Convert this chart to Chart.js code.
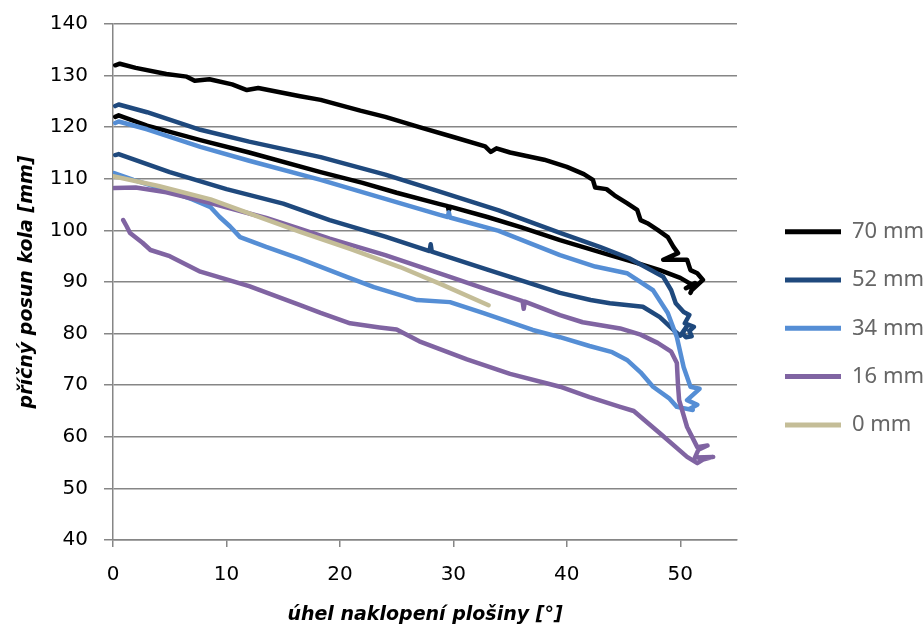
<!DOCTYPE html>
<html>
<head>
<meta charset="utf-8">
<script src="https://cdn.jsdelivr.net/npm/chart.js@4.4.1/dist/chart.umd.min.js"></script>
<style>
  html, body { margin: 0; padding: 0; background: #fff; }
  canvas { display: block; }
</style>
</head>
<body>
<canvas id="graf" width="924" height="626"></canvas>
<script>
// each series is one loop: tilting up (upper curve), then back down (lower curve)
const nazvy = ['70 mm', '52 mm', '34 mm', '16 mm', '0 mm'];
const barvy = ['#000000', '#1f497d', '#558ed5', '#8064a2', '#c4bd97'];
const xTicks = [0, 10, 20, 30, 40, 50];
const yTicks = [40, 50, 60, 70, 80, 90, 100, 110, 120, 130, 140];

const x70tam = [0.2, 0.6, 2, 4.7, 6.5, 7.2, 8.5, 10.5, 11.8, 12.8, 16.5, 18.3, 21.8, 24, 27, 30, 32.8, 33.3, 33.8, 35, 38, 40, 41.5, 42.3, 42.5, 43.5, 44.2, 45.3, 46.2, 46.5, 47.1, 48, 48.9, 49.4, 49.8, 48.5, 50.6, 50.9, 51.5, 52, 51, 50.9];
const y70tam = [132.0, 132.3, 131.5, 130.3, 129.8, 129.0, 129.3, 128.3, 127.2, 127.6, 126.0, 125.3, 123.2, 122.0, 120.0, 118.1, 116.3, 115.2, 115.9, 115.1, 113.7, 112.3, 110.9, 109.8, 108.3, 108.0, 106.8, 105.3, 104.0, 102.0, 101.4, 100.1, 98.7, 96.8, 95.6, 94.3, 94.3, 92.3, 91.7, 90.4, 88.4, 87.9];
const x70zpet = [51.3, 50.5, 51.1, 50, 48.2, 46, 43.8, 39.4, 36, 33, 29.7, 29.6, 29.5, 28.8, 25, 22, 18.3, 12, 7.7, 3, 0.5, 0.2];
const y70zpet = [89.8, 88.8, 89.4, 90.8, 92.3, 93.8, 95.2, 98.1, 100.6, 102.6, 104.6, 103.8, 104.7, 105.1, 107.3, 109.2, 111.3, 115.1, 117.5, 120.3, 122.3, 122.0];

const x52tam = [0.2, 0.5, 3, 7.7, 12, 18.3, 24, 28.8, 34, 39.4, 42.9, 45.5, 48.5, 49.2, 49.6, 50.3, 50.8, 50.4, 51.2, 50.8, 51.0, 50.5];
const y52tam = [124.1, 124.4, 122.9, 119.5, 117.2, 114.2, 110.8, 107.5, 103.9, 99.5, 96.8, 94.6, 91.0, 88.4, 85.9, 84.2, 83.6, 82.0, 81.3, 80.5, 79.5, 79.3];
const x52zpet = [50.2, 50.6, 50, 49.4, 48.2, 46.7, 43.8, 42.1, 39.4, 37, 33, 28.1, 28.0, 27.9, 24, 19.1, 15, 10, 5, 0.5, 0.2];
const y52zpet = [80.0, 81.5, 79.6, 80.7, 83.2, 85.2, 85.9, 86.5, 87.9, 89.6, 92.4, 95.9, 97.3, 96.0, 98.8, 102.0, 105.2, 108.0, 111.3, 114.8, 114.6];

const x34tam = [0.2, 0.5, 3, 7.7, 12, 18.3, 24, 28.8, 29.5, 29.6, 29.7, 34, 39.4, 42.5, 45.3, 47.6, 48.9, 49.7, 50.3, 50.9, 51.7, 50.6, 51.5, 50.8];
const y34tam = [120.8, 121.1, 119.6, 116.2, 113.5, 109.8, 106.1, 103.0, 102.6, 103.5, 102.5, 99.9, 95.2, 93.0, 91.7, 88.4, 84.0, 79.3, 73.5, 69.7, 69.3, 67.1, 66.2, 65.4];
const x34zpet = [51.1, 49.7, 49, 47.6, 46.5, 45.3, 44, 42, 39.4, 37, 32.6, 29.7, 26.8, 23, 20.6, 16.5, 13.5, 11.2, 10.3, 9.4, 8.6, 7, 4.7, 1.8, 0.1];
const y34zpet = [65.2, 65.8, 67.5, 69.7, 72.5, 74.9, 76.4, 77.6, 79.3, 80.7, 84.0, 86.1, 86.5, 89.0, 91.0, 94.5, 96.8, 98.7, 100.8, 102.6, 104.5, 106.0, 107.8, 109.8, 111.1];

const x16tam = [0.1, 2, 4.7, 8.6, 13.5, 16.5, 19.1, 24, 29.7, 33, 36.1, 36.2, 36.3, 39.4, 41.4, 44.7, 46.5, 48, 49.2, 49.7, 49.8, 49.9, 50.6, 51.5, 52.4, 51.6, 51.3];
const y16tam = [108.2, 108.3, 107.4, 105.3, 102.4, 100.3, 98.4, 95.2, 91.0, 88.5, 86.3, 84.8, 86.2, 83.6, 82.2, 81.0, 79.8, 78.2, 76.5, 74.3, 70.0, 67.1, 61.9, 58.0, 58.3, 57.5, 56.0];
const x16zpet = [52.9, 52, 51.5, 50.6, 48.2, 45.9, 44.7, 42, 39.4, 35, 31.2, 27, 25, 23.5, 20.9, 18.3, 16.5, 12, 7.7, 5, 3.3, 2.6, 1.5, 1.2, 0.9];
const y16zpet = [56.1, 55.6, 54.9, 56.1, 60.7, 65.0, 65.8, 67.7, 69.7, 72.2, 75.0, 78.5, 80.8, 81.2, 82.0, 84.0, 85.5, 89.2, 92.0, 95.0, 96.2, 97.6, 99.5, 100.8, 102.0];

const x0 = [0, 4, 8.6, 12, 16.5, 20.9, 25.3, 29, 33.1];
const y0 = [110.5, 108.6, 106.0, 103.3, 99.7, 96.4, 92.9, 89.5, 85.5];

const serieX = [x70tam.concat(x70zpet), x52tam.concat(x52zpet), x34tam.concat(x34zpet), x16tam.concat(x16zpet), x0];
const serieY = [y70tam.concat(y70zpet), y52tam.concat(y52zpet), y34tam.concat(y34zpet), y16tam.concat(y16zpet), y0];

const pismo = '"DejaVu Sans", sans-serif';

const datasets = nazvy.map((nazev, i) => ({
  label: nazev,
  data: serieX[i].map((x, j) => ({ x: x, y: serieY[i][j] })),
  showLine: true,
  borderColor: barvy[i],
  backgroundColor: barvy[i],
  borderWidth: 4.5,
  borderCapStyle: 'round',
  borderJoinStyle: 'round',
  pointRadius: 0,
  fill: false,
  order: -i
}));

new Chart(document.getElementById('graf'), {
  type: 'scatter',
  data: { datasets: datasets },
  options: {
    responsive: false,
    animation: false,
    devicePixelRatio: 1,
    layout: { padding: { top: 24, right: 0, bottom: 0, left: 0 } },
    plugins: {
      tooltip: { enabled: false },
      legend: {
        position: 'right',
        align: 'start',
        maxWidth: 187,
        title: { display: true, text: '', padding: { top: 134.3, bottom: 0 } },
        labels: {
          boxWidth: 56,
          boxHeight: 5,
          padding: 48,
          color: '#000',
          font: { family: '"Noto Sans", sans-serif', size: 22, lineHeight: '0.3px' },
          sort: (a, b) => a.datasetIndex - b.datasetIndex,
          generateLabels: chart => chart.data.datasets.map((ds, i) => ({
            text: [ds.label],
            fillStyle: ds.borderColor,
            strokeStyle: ds.borderColor,
            lineWidth: 0,
            hidden: false,
            datasetIndex: i
          }))
        }
      }
    },
    scales: {
      x: {
        type: 'linear',
        min: 0,
        max: 55,
        afterBuildTicks: ax => { ax.ticks = xTicks.map(v => ({ value: v })); },
        afterFit: ax => { ax.height = 86; },
        ticks: { stepSize: 10, padding: 15.7, color: '#000', font: { family: pismo, size: 20 } },
        grid: { drawOnChartArea: false, tickLength: 7, color: '#868686', lineWidth: 1.5 },
        border: { color: '#868686', width: 1.5 },
        title: {
          display: true,
          text: 'úhel naklopení plošiny [°]',
          color: '#000',
          font: { family: pismo, size: 19, weight: 'bold', style: 'italic' },
          padding: { top: 16.5, bottom: 0 }
        }
      },
      y: {
        min: 40,
        max: 140,
        afterBuildTicks: ax => { ax.ticks = yTicks.map(v => ({ value: v })); },
        afterFit: ax => { ax.width = 113; ax.paddingTop = 0; ax.paddingBottom = 0; },
        ticks: { stepSize: 10, padding: 16, color: '#000', font: { family: pismo, size: 20 } },
        grid: { tickLength: 9, color: '#868686', lineWidth: 1.5 },
        border: { color: '#868686', width: 1.5 },
        title: {
          display: true,
          text: 'příčný posun kola [mm]',
          color: '#000',
          font: { family: pismo, size: 19, weight: 'bold', style: 'italic' },
          padding: { top: 15.6, bottom: 11.4 }
        }
      }
    }
  }
});
</script>
</body>
</html>
